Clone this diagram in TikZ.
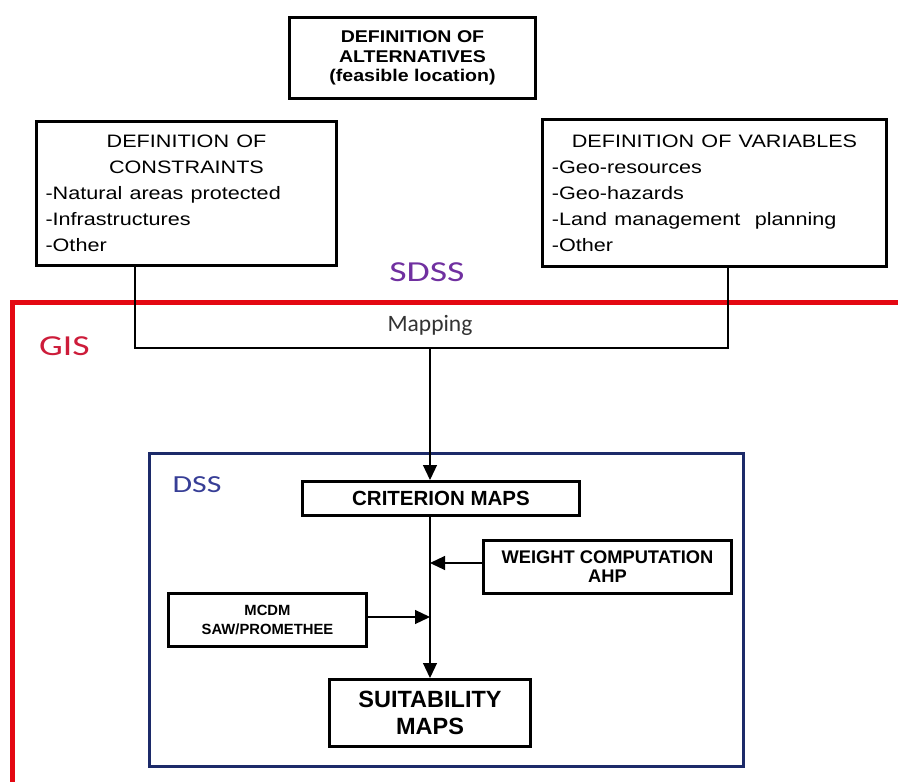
\documentclass[tikz,border=0pt]{standalone}
\usepackage{fontspec}
\setmainfont{Liberation Sans}
\newfontfamily\calfont{Carlito}
\usetikzlibrary{positioning,arrows.meta}
\definecolor{gisred}{RGB}{228,8,18}
\definecolor{gistext}{RGB}{205,28,58}
\definecolor{sdssviolet}{RGB}{112,48,160}
\definecolor{dssnavy}{RGB}{28,42,105}
\definecolor{dsstext}{RGB}{55,62,150}
\tikzset{
  flowarrow/.style={-{Triangle[length=15pt,width=14pt]}, line width=1.2pt},
  linkline/.style={line width=1.2pt},
  topbox/.style={draw, line width=2.6pt, fill=white, inner sep=0pt, align=center, xscale=1.15, font=\bfseries\fontsize{17}{19.5}\selectfont},
  listbox/.style={draw, line width=2.6pt, fill=white, inner xsep=7.5pt, inner ysep=0pt, xscale=1.2, font=\fontsize{18}{26}\selectfont},
  dssbox/.style={draw, line width=2.6pt, fill=white, inner sep=0pt, align=center, font=\bfseries\fontsize{18.3}{19}\selectfont},
  framelabel/.style={inner sep=0pt, xscale=1.3, font=\calfont}
}

\begin{document}
\begin{tikzpicture}[x=1pt, y=-1pt]
  \useasboundingbox[fill=white] (0,0) rectangle (898,782);
  % GIS and DSS frames
  \draw[gisred, line width=5pt] (12,302.5) rectangle (904,788);
  \draw[dssnavy, line width=2.8pt] (149.5,453.5) rectangle (743.5,766.5);
  \node[framelabel, text=sdssviolet, font=\calfont\fontsize{29}{32}\selectfont] (sdss) at (427,272.5) {SDSS};
  \node[framelabel, text=gistext, font=\calfont\fontsize{29}{32}\selectfont] (gis) at (64.5,346.5) {GIS};
  \node[framelabel, text=dsstext, font=\calfont\fontsize{24.5}{27}\selectfont] (dss) at (197,484.5) {DSS};
  \node[inner sep=0pt, font=\calfont\fontsize{23.5}{26}\selectfont, text=black!80] (map) at (430,325) {Mapping};

  % definition boxes
  \node[topbox, minimum width=214.3pt, minimum height=81.4pt] (alt) at (412.5,58)
    {DEFINITION OF\\ ALTERNATIVES\\ (feasible location)};
  \node[listbox, minimum width=250.3pt, minimum height=144.4pt, text width=235pt] (cons) at (186.5,193.5)
    {{\centering DEFINITION OF\\ CONSTRAINTS\par}\raggedright -Natural areas protected\\ -Infrastructures\\ -Other};
  \node[listbox, inner xsep=8pt, minimum width=287pt, minimum height=147.4pt, text width=271pt] (vars) at (714.5,193)
    {{\centering DEFINITION OF VARIABLES\par}\raggedright -Geo-resources\\ -Geo-hazards\\ -Land management~ planning\\ -Other};

  % DSS boxes
  \node[dssbox, minimum width=277.4pt, minimum height=34.4pt, font=\bfseries\fontsize{20.5}{22}\selectfont] (crit) at (441,498.5) {CRITERION MAPS};
  \node[dssbox, minimum width=248.4pt, minimum height=53.4pt] (wgt) at (607.5,567) {WEIGHT COMPUTATION\\ AHP};
  \node[dssbox, minimum width=198.4pt, minimum height=53.4pt, font=\bfseries\fontsize{14.8}{19}\selectfont] (mcdm) at (267.5,620) {MCDM\\ SAW/PROMETHEE};
  \node[dssbox, minimum width=201.4pt, minimum height=67.4pt, font=\bfseries\fontsize{23.5}{27}\selectfont] (suit) at (430,713) {SUITABILITY\\ MAPS};

  % connectors
  \coordinate (lj) at (135,348);
  \coordinate (rj) at (728,348);
  \coordinate (mj) at (430,348);
  \coordinate (wj) at (430,563);
  \coordinate (cj) at (430,617);
  \draw[linkline] (cons.south -| lj) -- (lj) -- (rj) -- (vars.south -| rj);
  \draw[flowarrow] (mj) -- (mj |- crit.north);
  \draw[flowarrow] (crit.south -| suit.north) -- (suit.north);
  \draw[flowarrow] (wgt.west |- wj) -- (wj);
  \draw[flowarrow] (mcdm.east |- cj) -- (cj);
\end{tikzpicture}
\end{document}
